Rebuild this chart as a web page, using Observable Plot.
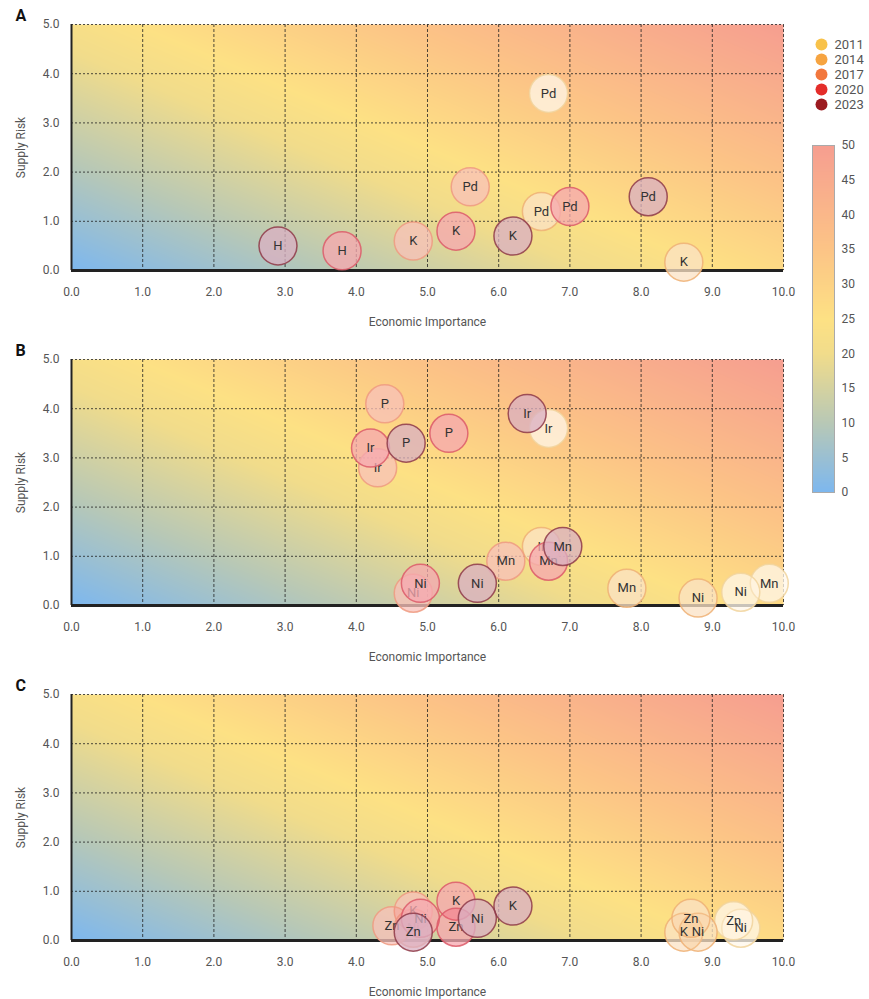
<!DOCTYPE html>
<html><head><meta charset="utf-8">
<script src="https://cdn.jsdelivr.net/npm/d3@7"></script>
<script src="https://cdn.jsdelivr.net/npm/@observablehq/plot@0.6"></script>
<style>
body{margin:0;background:#fff;font-family:Roboto,"Noto Sans",sans-serif;}
#root{position:relative;width:869px;height:999px;overflow:hidden;background:#fff;}
#root > div, #root > svg{position:absolute;}
</style></head><body><div id="root"></div>
<script>
// ---------- data ----------
const years = [2011, 2014, 2017, 2020, 2023];
const xTicks = [0, 1, 2, 3, 4, 5, 6, 7, 8, 9, 10];
const yTicks = [0, 1, 2, 3, 4, 5];
const colorbarTicks = [0, 5, 10, 15, 20, 25, 30, 35, 40, 45, 50];

// Panel A
const aElement    = ["Pd", "Pd", "Pd", "Pd", "Pd", "K",  "K",  "K",  "K",  "H",  "H"];
const aYear       = [2011, 2014, 2017, 2020, 2023, 2014, 2017, 2020, 2023, 2020, 2023];
const aImportance = [6.7,  6.6,  5.6,  7.0,  8.1,  8.6,  4.8,  5.4,  6.2,  3.8,  2.9];
const aRisk       = [3.6,  1.2,  1.7,  1.3,  1.5,  0.17, 0.6,  0.8,  0.7,  0.4,  0.5];

// Panel B
const bElement    = ["P",  "P",  "P",  "Ir", "Ir", "Ir", "Ir", "Ir", "Mn", "Mn", "Mn", "Mn", "Mn", "Ni", "Ni", "Ni", "Ni", "Ni"];
const bYear       = [2017, 2020, 2023, 2011, 2014, 2017, 2020, 2023, 2011, 2014, 2017, 2020, 2023, 2011, 2014, 2017, 2020, 2023];
const bImportance = [4.4,  5.3,  4.7,  6.7,  6.6,  4.3,  4.2,  6.4,  9.8,  7.8,  6.1,  6.7,  6.9,  9.4,  8.8,  4.8,  4.9,  5.7];
const bRisk       = [4.1,  3.5,  3.3,  3.6,  1.2,  2.8,  3.2,  3.9,  0.45, 0.35, 0.9,  0.9,  1.2,  0.27, 0.15, 0.25, 0.45, 0.45];

// Panel C
const cElement    = ["K",  "K",  "K",  "K",  "Ni", "Ni", "Ni", "Ni", "Ni", "Zn", "Zn", "Zn", "Zn", "Zn"];
const cYear       = [2014, 2017, 2020, 2023, 2011, 2014, 2017, 2020, 2023, 2011, 2014, 2017, 2020, 2023];
const cImportance = [8.6,  4.8,  5.4,  6.2,  9.4,  8.8,  4.8,  4.9,  5.7,  9.3,  8.7,  4.5,  5.4,  4.8];
const cRisk       = [0.17, 0.6,  0.8,  0.7,  0.25, 0.17, 0.25, 0.45, 0.45, 0.4,  0.45, 0.3,  0.27, 0.17];

// ---------- styles ----------
const yearColors   = ["#f8c24a", "#f6a441", "#f2773d", "#e42d2a", "#9c1b20"];
const bubbleTints  = ["#fff0d8", "#f8c890", "#f28a7a", "#ee5a6a", "#b86a8c"];
const bubbleStroke = ["#f1d49c", "#eeb074", "#ee9a80", "#dc5a68", "#8e3a48"];
const bgStops  = [0, 10, 20, 25, 35, 50];
const bgColors = ["#7db7ef", "#b8c8b6", "#f1dc8b", "#fde184", "#fcc486", "#f69e90"];
const bgField = (x, y) => 2.75 * x + 4.5 * y;

const colorScale = {type: "linear", domain: bgStops, range: bgColors, clamp: true};
const root = document.getElementById("root");

function rows(el, yr, xi, yi) {
  return el.map((e, i) => ({el: e, year: yr[i], ei: xi[i], sr: yi[i]}));
}

function panel(letter, data, top) {
  const bubbles = years.flatMap((yr, i) => {
    const d = data.filter(p => p.year === yr);
    return [
      Plot.dot(d, {x: "ei", y: "sr", r: 19, fill: "white", fillOpacity: 0.6, stroke: "none"}),
      Plot.dot(d, {x: "ei", y: "sr", r: 19, fill: bubbleTints[i], fillOpacity: 0.4, stroke: bubbleStroke[i], strokeWidth: 1.5, strokeOpacity: 0.85}),
      Plot.text(d, {x: "ei", y: "sr", text: "el", fontSize: 13, fill: "#333"})
    ];
  });
  const svg = Plot.plot({
    width: 800, height: 335,
    marginLeft: 71, marginRight: 17, marginTop: 24, marginBottom: 65,
    style: {fontFamily: "Roboto, 'Noto Sans', sans-serif", fontSize: "12px", color: "#555", background: "transparent"},
    x: {domain: [0, 10]},
    y: {domain: [0, 5]},
    color: colorScale,
    marks: [
      Plot.raster({x1: 0, x2: 10, y1: 0, y2: 5, fill: bgField, pixelSize: 1}),
      Plot.gridX(xTicks, {stroke: "#222", strokeOpacity: 0.8, strokeDasharray: "3,2"}),
      Plot.gridY(yTicks, {stroke: "#222", strokeOpacity: 0.8, strokeDasharray: "2,2"}),
      Plot.ruleX([0], {stroke: "#222", strokeWidth: 2}),
      Plot.ruleY([0], {stroke: "#222", strokeWidth: 3}),
      Plot.axisX(xTicks, {tickSize: 0, tickPadding: 17, tickFormat: d3.format(".1f"), fontSize: 12, fill: "#555",
        label: "Economic Importance", labelAnchor: "center", labelArrow: "none", labelOffset: 55}),
      Plot.axisY(yTicks, {tickSize: 0, tickPadding: 12, tickFormat: d3.format(".1f"), fontSize: 12, fill: "#555",
        label: "Supply Risk", labelAnchor: "center", labelArrow: "none", labelOffset: 55}),
      ...bubbles,
      Plot.text([letter], {frameAnchor: "top-left", dx: -56, dy: -15, fontWeight: "bold", fontSize: 16, fill: "#111"})
    ]
  });
  svg.style.position = "absolute";
  svg.style.left = "0px";
  svg.style.top = top + "px";
  root.appendChild(svg);
}

panel("A", rows(aElement, aYear, aImportance, aRisk), 0);
panel("B", rows(bElement, bYear, bImportance, bRisk), 335);
panel("C", rows(cElement, cYear, cImportance, cRisk), 670);

// year legend
const legend = Plot.plot({
  width: 57, height: 110, margin: 0,
  style: {fontFamily: "Roboto, 'Noto Sans', sans-serif", fontSize: "12px", color: "#555", background: "transparent"},
  x: {domain: [0, 1], axis: null},
  y: {type: "point", domain: years, range: [12, 91], axis: null},
  color: {type: "identity"},
  marks: [
    Plot.dot(years, {y: d => d, frameAnchor: "left", dx: 9, r: 6, fill: (d, i) => yearColors[i], stroke: "none"}),
    Plot.text(years, {y: d => d, text: d => String(d), frameAnchor: "left", dx: 22, textAnchor: "start", fontSize: 13, fill: "#555"})
  ]
});
legend.style.left = "812px"; legend.style.top = "22px";
root.appendChild(legend);

// colorbar
const bar = Plot.plot({
  width: 57, height: 365,
  marginLeft: 0, marginRight: 35, marginTop: 10, marginBottom: 8,
  style: {fontFamily: "Roboto, 'Noto Sans', sans-serif", fontSize: "12px", color: "#555", background: "transparent"},
  x: {domain: [0, 1], axis: null},
  y: {domain: [0, 50]},
  color: colorScale,
  marks: [
    Plot.raster({x1: 0, x2: 1, y1: 0, y2: 50, fill: (x, y) => y, pixelSize: 1}),
    Plot.frame({stroke: "#aaa"}),
    Plot.axisY(colorbarTicks, {anchor: "right", tickSize: 0, tickPadding: 7, fontSize: 12, fill: "#555", label: null})
  ]
});
bar.style.left = "812px"; bar.style.top = "135px";
root.appendChild(bar);
</script></body></html>
